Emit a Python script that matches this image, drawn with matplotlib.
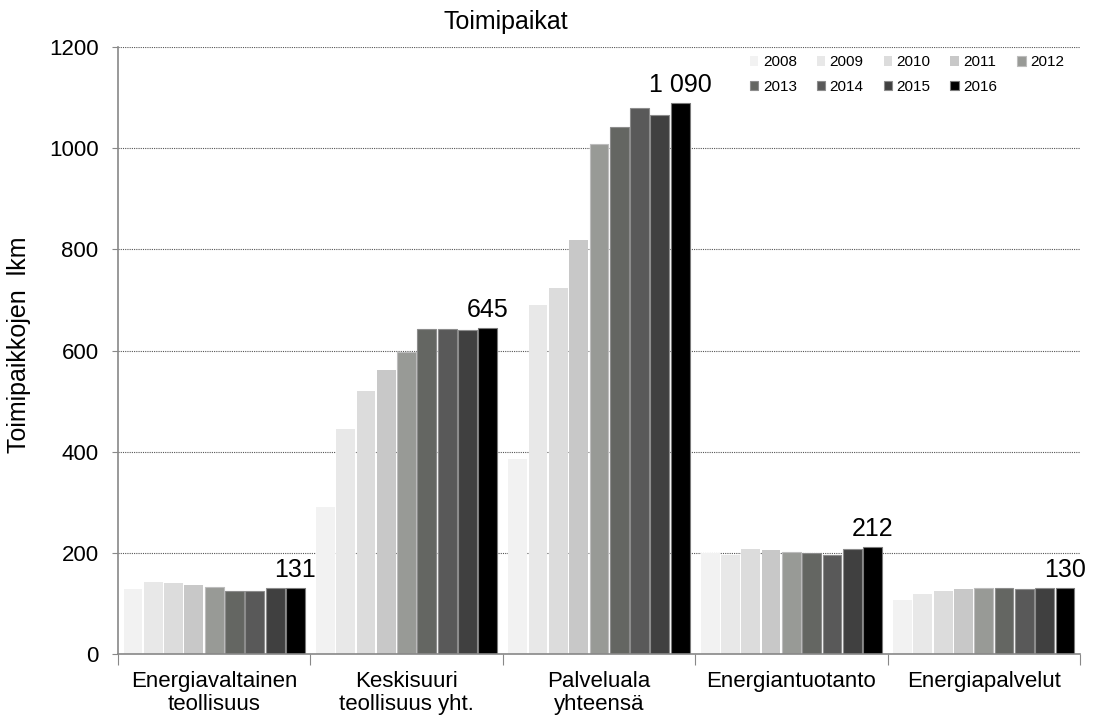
import numpy as np
import matplotlib
matplotlib.use("Agg")
import matplotlib.pyplot as plt

plt.rcParams['font.family'] = ['Liberation Sans', 'DejaVu Sans']

# data
categories = ["Energiavaltainen\nteollisuus", "Keskisuuri\nteollisuus yht.",
              "Palveluala\nyhteensä", "Energiantuotanto", "Energiapalvelut"]
years = ['2008', '2009', '2010', '2011', '2012', '2013', '2014', '2015', '2016']

energiavaltainen = [128, 142, 140, 136, 132, 124, 124, 130, 131]
keskisuuri = [291, 444, 519, 561, 598, 643, 643, 641, 645]
palveluala = [386, 689, 723, 819, 1008, 1041, 1080, 1065, 1090]
energiantuotanto = [200, 195, 208, 206, 202, 199, 195, 208, 212]
energiapalvelut = [106, 119, 125, 128, 130, 130, 129, 130, 130]
value_labels = ['131', '645', '1 090', '212', '130']

colors = ['#f2f2f2', '#e8e8e8', '#dcdcdc', '#c8c8c8', '#989a96',
          '#646662', '#595959', '#404040', '#000000']
edges = ['none', 'none', 'none', 'none', '#bdbdbd',
         '#8c8c8c', '#8c8c8c', '#8c8c8c', '#7a7a7a']

data = np.array([energiavaltainen, keskisuuri, palveluala,
                 energiantuotanto, energiapalvelut])

fig = plt.figure(figsize=(10.93, 7.19), dpi=100)
ax = fig.add_axes([0.108, 0.0904, 0.880, 0.8442])

x = np.arange(len(categories))
slot = 0.1056
handles = []
for i, year in enumerate(years):
    b = ax.bar(x + (i - 4) * slot, data[:, i], width=slot * 0.93,
               color=colors[i], edgecolor=edges[i], linewidth=0.8,
               label=year, zorder=2)
    handles.append(b)

# value labels on the 2016 bars
for xi, v, lab in zip(x, data[:, -1], value_labels):
    ax.annotate(lab, (xi + 4 * slot, v), xytext=(0, 8),
                textcoords='offset points', ha='center', va='baseline',
                fontsize=18)

ax.set_xlim(-0.5, len(categories) - 0.5)
ax.set_ylim(0, 1200)
ax.set_yticks(np.arange(0, 1201, 200))
ax.tick_params(axis='y', labelsize=16, length=4, color='#888888', pad=10)

ax.set_xticks(np.arange(-0.5, len(categories), 1.0))
ax.set_xticklabels([])
ax.set_xticks(x, minor=True)
ax.set_xticklabels(categories, minor=True, fontsize=16, linespacing=1.15)
ax.tick_params(axis='x', which='major', length=8, color='#888888')
ax.tick_params(axis='x', which='minor', length=0, pad=12)

for sp in ['top', 'right']:
    ax.spines[sp].set_visible(False)
for sp in ['left', 'bottom']:
    ax.spines[sp].set_color('#888888')
    ax.spines[sp].set_linewidth(1.2)

ax.yaxis.grid(True, linestyle=(0, (1, 1)), color='#555555', linewidth=0.8)
ax.set_axisbelow(True)

# legend filled row-wise: 2 rows x 5 columns
order = [0, 5, 1, 6, 2, 7, 3, 8, 4]
ax.legend([handles[k] for k in order], [years[k] for k in order],
          ncol=5, loc='upper right', bbox_to_anchor=(0.998, 1.009),
          frameon=False, fontsize=11, handlelength=0.55, handleheight=0.55,
          handletextpad=0.3, columnspacing=1.3, labelspacing=0.7)

fig.text(506 / 1093, 1 - 22 / 719, 'Toimipaikat', ha='center', va='center',
         fontsize=18)
fig.text(19 / 1093, 1 - 345 / 719, 'Toimipaikkojen  lkm', rotation=90,
         ha='center', va='center', fontsize=18)

fig.savefig('out.png', dpi=100)
